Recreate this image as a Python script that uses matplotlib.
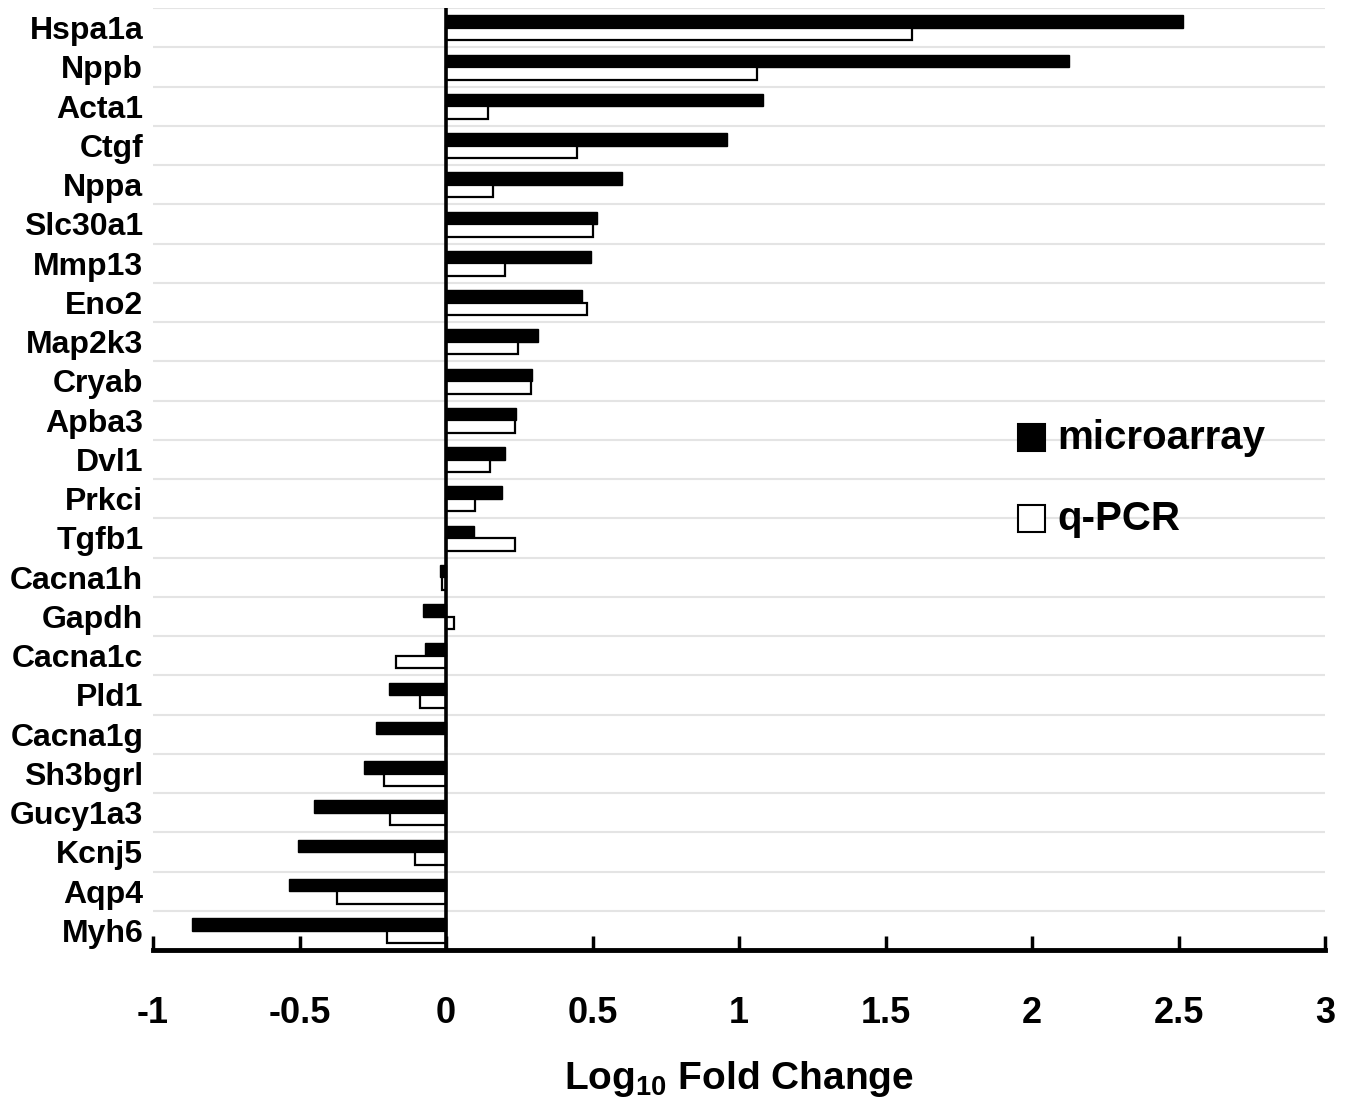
import matplotlib
matplotlib.use("Agg")
import matplotlib.pyplot as plt
from matplotlib.patches import Rectangle
import numpy as np

genes = ["Hspa1a", "Nppb", "Acta1", "Ctgf", "Nppa", "Slc30a1", "Mmp13", "Eno2",
         "Map2k3", "Cryab", "Apba3", "Dvl1", "Prkci", "Tgfb1", "Cacna1h", "Gapdh",
         "Cacna1c", "Pld1", "Cacna1g", "Sh3bgrl", "Gucy1a3", "Kcnj5", "Aqp4", "Myh6"]
microarray = [2.515, 2.126, 1.082, 0.959, 0.60, 0.515, 0.495, 0.464,
              0.314, 0.294, 0.24, 0.20, 0.19, 0.095, -0.02, -0.08,
              -0.07, -0.195, -0.24, -0.28, -0.45, -0.505, -0.536, -0.867]
qpcr = [1.59, 1.061, 0.143, 0.447, 0.16, 0.50, 0.20, 0.48,
        0.246, 0.29, 0.235, 0.15, 0.10, 0.235, -0.015, 0.027,
        -0.17, -0.09, 0.0, -0.21, -0.19, -0.106, -0.372, -0.20]
xticks = [-1, -0.5, 0, 0.5, 1, 1.5, 2, 2.5, 3]
xticklabels = ["-1", "-0.5", "0", "0.5", "1", "1.5", "2", "2.5", "3"]

plt.rcParams['font.family'] = ['Liberation Sans', 'DejaVu Sans']
plt.rcParams['font.weight'] = 'bold'
plt.rcParams['mathtext.fontset'] = 'custom'
plt.rcParams['mathtext.rm'] = 'Liberation Sans:bold'
plt.rcParams['mathtext.bf'] = 'Liberation Sans:bold'

W, H = 1355, 1109
fig = plt.figure(figsize=(W / 100, H / 100), dpi=100)
ax = fig.add_axes([153 / W, 1 - 950 / H, (1325 - 153) / W, (950 - 8) / H])

y = np.arange(len(genes))
h = 0.32
ax.barh(y - 0.155, microarray, height=h, color="black", edgecolor="black", linewidth=1.0, zorder=3)
ax.barh(y + 0.165, qpcr, height=h, color="white", edgecolor="black", linewidth=1.6, zorder=3)

ax.set_xlim(-1, 3)
ax.set_ylim(len(genes) - 0.5, -0.5)

ax.set_yticks(y)
ax.set_yticklabels(genes, fontsize=23, fontweight='bold')
ax.set_yticks(np.arange(len(genes)) - 0.5, minor=True)
ax.tick_params(axis='y', which='both', length=0, pad=7)
ax.grid(axis='y', which='minor', color='#e4e4e4', linewidth=1.5, zorder=0)

ax.set_xticks(xticks)
ax.set_xticklabels(xticklabels, fontsize=26, fontweight='bold')
ax.tick_params(axis='x', direction='in', length=10, width=2.5, pad=33)

for s in ['left', 'right', 'top']:
    ax.spines[s].set_visible(False)
ax.spines['bottom'].set_linewidth(3.5)
ax.axvline(0, color='black', linewidth=2.6, zorder=4)

ax.set_xlabel(r'Log$_{10}$ Fold Change', fontsize=28, fontweight='bold', labelpad=20)

# legend
fig.patches.append(Rectangle((1018 / W, 1 - 451 / H), 27 / W, 27 / H, transform=fig.transFigure,
                             facecolor='black', edgecolor='black', linewidth=1.5))
fig.patches.append(Rectangle((1018 / W, 1 - 532 / H), 27 / W, 27 / H, transform=fig.transFigure,
                             facecolor='white', edgecolor='black', linewidth=1.5))
fig.text(1057 / W, 1 - 438 / H, "microarray", fontsize=29, fontweight='bold', va='center', ha='left')
fig.text(1057 / W, 1 - 519 / H, "q-PCR", fontsize=29, fontweight='bold', va='center', ha='left')

fig.savefig("out.png", dpi=100)
